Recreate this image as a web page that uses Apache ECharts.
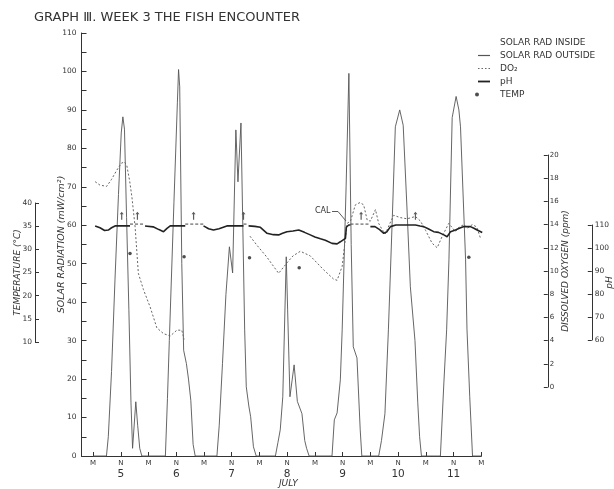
<!DOCTYPE html>
<html>
<head>
<meta charset="utf-8">
<script src="https://cdn.jsdelivr.net/npm/echarts@6/dist/echarts.min.js"></script>
<style>
  html, body { margin: 0; padding: 0; background: #fff; }
  #chart { width: 614px; height: 489px; }
</style>
</head>
<body>
<div id="chart"></div>
<script>
// hours from midnight July 5
const tickHours = [0, 12, 24, 36, 48, 60, 72, 84, 96, 108, 120, 132, 144, 156, 168];
const tickMarks = ['M', 'N', 'M', 'N', 'M', 'N', 'M', 'N', 'M', 'N', 'M', 'N', 'M', 'N', 'M'];
const dayLabels = ['5', '6', '7', '8', '9', '10', '11'];

// solar radiation outside (mW/cm2)
const solarOutside = [
  [0, 0], [5.8, 0], [6.6, 5], [8, 22], [9.5, 46], [11, 68], [12.2, 84], [12.9, 88.2], [13.6, 85], [14.5, 62], [15.5, 38], [16.4, 14], [17.1, 2], [17.8, 2.4], [18.5, 14.1], [19.3, 8], [20.2, 2], [21.1, 0],
  [31.3, 0], [32.2, 15], [33, 30], [35, 66], [36.5, 92], [37, 100.5], [37.5, 96], [38.4, 50], [39.2, 27.5], [40.4, 24], [41.3, 20], [42.3, 14.5], [43.3, 3], [44.2, 0],
  [53.6, 0], [54.6, 8], [56, 24], [57.5, 42], [59, 54.4], [60.4, 47.6], [61.8, 84.8], [62.7, 71.3], [64, 86.6], [64.8, 60], [65.6, 33], [66.3, 18], [67.4, 13], [68.2, 10.2], [69.4, 2.4], [70.6, 0],
  [78.9, 0], [80, 3.5], [81, 6.8], [82.1, 15.4], [83.6, 51.8], [84.2, 38], [85.2, 15.4], [87, 23.7], [88.4, 14.2], [90.4, 11], [91.6, 4], [92.4, 2], [93.5, 0],
  [103.4, 0], [104.4, 9.4], [105.6, 11.2], [107, 19.8], [107.8, 32.8], [109.5, 70], [110.7, 99.5], [111.7, 55], [112.6, 28.4], [114.2, 25.5], [115.6, 6.8], [116.3, 0],
  [123.6, 0], [124.8, 4], [126.3, 11], [127.8, 32.8], [129.5, 62], [130.8, 85.6], [132.7, 90], [134.2, 86], [135.8, 65], [137.3, 44], [139.3, 30], [140.5, 14], [141.3, 5], [142.1, 0],
  [150.3, 0], [151.8, 19], [153, 32.8], [154, 51], [155.4, 88], [157.1, 93.5], [158.3, 90], [159, 85.6], [161.2, 51], [161.8, 33], [163, 15.4], [164.2, 0], [168, 0]
];

// dissolved oxygen (ppm)
const dissolvedO2 = [
  [0.9, 17.7], [3, 17.4], [5.9, 17.3], [8, 17.9], [10.3, 18.7], [12.3, 19.3], [13.6, 19.4], [14.6, 19.1], [15.8, 17.8], [16.8, 16.4], [18.2, 13.8], [19.6, 9.8], [21.8, 8.4], [24.7, 6.9], [27.6, 5.1], [30.5, 4.6], [33.4, 4.4], [36.3, 4.9], [38.4, 4.9], [39.4, 4.1],
  null,
  [67.9, 13], [71, 12.2], [75.2, 11.2], [80.3, 9.8], [83.9, 10.7], [86.5, 11.3], [89.7, 11.7], [94, 11.3], [99.8, 10.1], [104.1, 9.3], [105.6, 9.2], [107.8, 10.4], [109.2, 12.8], [109.9, 14.1], [111.4, 14.3], [113.5, 15.7], [115.5, 15.9], [117.1, 15.7], [118.6, 14.4], [120, 14.3], [122.2, 15.3], [123.6, 14.1], [125, 13.6], [126.5, 13.2], [128.2, 14], [130.1, 14.8], [133, 14.6], [135.9, 14.5], [139.5, 14.7], [141.7, 14.3], [143.9, 13.5], [146.7, 12.4], [148.9, 12], [151.1, 13], [153.9, 14.1], [156.8, 13.4], [158.5, 13.8], [160.5, 14], [162, 13.7], [164.1, 14], [166, 13.8], [167.7, 12.8]
];

// pH (axis labelled 60..110)
const phValues = [
  [0.9, 109.6], [3, 108.8], [5, 107.6], [6.6, 107.8], [8, 108.8], [9.5, 109.6], [12.5, 109.6], [16, 109.6],
  null,
  [22.5, 109.6], [26, 109.2], [28.5, 108], [30.5, 107.1], [32, 108.5], [33.4, 109.6], [36, 109.6], [39.9, 109.6],
  null,
  [47.8, 109.6], [50, 108.4], [52.1, 107.8], [54.5, 108.4], [57.9, 109.6], [61, 109.6], [65.1, 109.6],
  null,
  [67.3, 109.6], [70, 109.4], [72.4, 109], [75.3, 106.4], [78, 105.8], [80.3, 105.7], [82, 106.4], [83.9, 107.1], [86.5, 107.4], [89, 107.8], [91.5, 106.8], [94, 105.7], [96, 104.8], [98.4, 104], [100.5, 103.4], [103.4, 102], [105.6, 101.8], [107, 102.7], [109.2, 104.2], [109.6, 109], [110.6, 110], [111.4, 110],
  null,
  [120, 109.3], [122, 109.3], [124, 108], [125.8, 106.4], [127.2, 107.1], [128.7, 109.3], [131, 110], [136, 110], [139.5, 110], [141.5, 109.6], [143.1, 109.3], [145, 108.4], [147.4, 107.1], [149.5, 106.8], [151.8, 105.7], [153.2, 104.9], [154.7, 107.1], [156.8, 107.8], [158.5, 108.6], [160.5, 109.3], [163.3, 109.3], [164.8, 108.6], [166.2, 107.8], [168.4, 106.7]
];
const phGaps = [
  [16, 110.4], [22.5, 110.4], null, [39.9, 110.4], [47.8, 110.4], null,
  [65.1, 110.4], [67.3, 110.4], null, [111.4, 110.4], [120, 110.4]
];
const arrowHours = [12.4, 19.2, 43.5, 65.1, 116, 139.5];
const arrowLevel = 62.5;

// temperature (°C)
const tempPoints = [[16, 29.1], [39.4, 28.4], [67.7, 28.2], [89.2, 26], [162.6, 28.3]];

const ink = '#333';
const font = 'DejaVu Sans';
const gridBox = { left: 81.5, width: 399.8, containLabel: false, outerBoundsMode: 'none' };
const lineIcon = 'path://M0 4 L12 4 L12 5.2 L0 5.2 Z';
const thickIcon = 'path://M0 3.8 L12 3.8 L12 5.6 L0 5.6 Z';
const dotIcon = 'path://M0 4 L1.5 4 L1.5 5 L0 5 Z M3.5 4 L5 4 L5 5 L3.5 5 Z M7 4 L8.5 4 L8.5 5 L7 5 Z M10.5 4 L12 4 L12 5 L10.5 5 Z';

function hiddenX(gridIndex) {
  return { type: 'value', gridIndex: gridIndex, min: -5, max: 168, show: false };
}
function axisLine() {
  return { show: true, onZero: false, lineStyle: { color: ink, width: 1 } };
}

const chart = echarts.init(document.getElementById('chart'));
chart.setOption({
  backgroundColor: '#fff',
  animation: false,
  textStyle: { fontFamily: font, color: ink },
  title: {
    text: 'GRAPH Ⅲ. WEEK 3 THE FISH ENCOUNTER',
    left: 34, top: 11, padding: 0,
    textStyle: { fontFamily: font, fontSize: 13, fontWeight: 'normal', color: ink }
  },
  legend: [
    {
      data: [
        { name: 'SOLAR RAD INSIDE', icon: 'none' },
        { name: 'SOLAR RAD OUTSIDE', icon: lineIcon },
        { name: 'DO₂', icon: dotIcon },
        { name: 'pH', icon: thickIcon }
      ],
      orient: 'vertical', left: 478, top: 38, padding: 0,
      itemWidth: 12, itemHeight: 9, itemGap: 4, selectedMode: false,
      textStyle: { fontFamily: font, fontSize: 9, lineHeight: 9, color: ink, padding: [0, 0, 0, 5] }
    },
    {
      data: ['TEMP'],
      orient: 'vertical', left: 475, top: 90, padding: 0,
      itemWidth: 4, itemHeight: 4, selectedMode: false,
      textStyle: { fontFamily: font, fontSize: 9, lineHeight: 9, color: ink, padding: [0, 0, 0, 16] }
    }
  ],
  grid: [
    Object.assign({ top: 33, height: 423 }, gridBox),
    Object.assign({ top: 203, height: 139 }, gridBox),
    Object.assign({ top: 155, height: 232 }, gridBox),
    Object.assign({ top: 225, height: 115 }, gridBox)
  ],
  xAxis: [
    {
      type: 'value', gridIndex: 0, min: -5, max: 168,
      name: 'JULY', nameLocation: 'middle', nameGap: 23, nameMoveOverlap: false,
      nameTextStyle: { fontFamily: font, fontSize: 9, fontStyle: 'italic', color: ink, padding: [0, 0, 0, 14] },
      axisLine: { show: true, onZero: false, lineStyle: { color: ink, width: 1 } },
      axisTick: { show: true, inside: true, length: 4, customValues: tickHours, lineStyle: { color: ink } },
      splitLine: { show: false },
      axisLabel: {
        customValues: tickHours, margin: 3,
        formatter: function (v) {
          const i = tickHours.indexOf(v);
          if (i < 0) return '';
          if (tickMarks[i] === 'N') return '{m|N}\n{d|' + dayLabels[Math.floor(v / 24)] + '}';
          return '{m|M}';
        },
        rich: {
          m: { fontFamily: font, fontSize: 7, lineHeight: 9, color: ink },
          d: { fontFamily: font, fontSize: 10.5, lineHeight: 12, color: ink }
        }
      }
    },
    hiddenX(1), hiddenX(2), hiddenX(3)
  ],
  yAxis: [
    {
      type: 'value', gridIndex: 0, min: 0, max: 110, interval: 5, position: 'left',
      name: 'SOLAR RADIATION (mW/cm²)', nameLocation: 'middle', nameGap: 15, nameRotate: 90, nameMoveOverlap: false,
      nameTextStyle: { fontFamily: font, fontSize: 9.5, fontStyle: 'italic', color: ink },
      axisLine: axisLine(),
      axisTick: { show: true, inside: true, length: 5, lineStyle: { color: ink } },
      splitLine: { show: false },
      axisLabel: { fontSize: 7.5, margin: 5, color: ink, formatter: v => (v % 10 === 0 ? String(v) : '') }
    },
    {
      type: 'value', gridIndex: 1, min: 10, max: 40, interval: 5, position: 'left', offset: 46.5,
      name: 'TEMPERATURE (°C)', nameLocation: 'middle', nameGap: 13, nameRotate: 90, nameMoveOverlap: false,
      nameTextStyle: { fontFamily: font, fontSize: 9, fontStyle: 'italic', color: ink },
      axisLine: axisLine(),
      axisTick: { show: true, inside: true, length: 4, lineStyle: { color: ink } },
      splitLine: { show: false },
      axisLabel: { fontSize: 7.5, margin: 3, color: ink }
    },
    {
      type: 'value', gridIndex: 2, min: 0, max: 20, interval: 2, position: 'right', offset: 66.5,
      name: 'DISSOLVED OXYGEN (ppm)', nameLocation: 'middle', nameGap: 13, nameRotate: 90, nameMoveOverlap: false,
      nameTextStyle: { fontFamily: font, fontSize: 9, fontStyle: 'italic', color: ink },
      axisLine: axisLine(),
      axisTick: { show: true, inside: true, length: 4, lineStyle: { color: ink } },
      splitLine: { show: false },
      axisLabel: { fontSize: 7, margin: 2, color: ink }
    },
    {
      type: 'value', gridIndex: 3, min: 60, max: 110, interval: 10, position: 'right', offset: 110.5,
      name: 'pH', nameLocation: 'middle', nameGap: 13, nameRotate: 90, nameMoveOverlap: false,
      nameTextStyle: { fontFamily: font, fontSize: 9, fontStyle: 'italic', color: ink },
      axisLine: axisLine(),
      axisTick: { show: true, inside: true, length: 4, lineStyle: { color: ink } },
      splitLine: { show: false },
      axisLabel: { fontSize: 7.5, margin: 3, color: ink }
    }
  ],
  series: [
    {
      name: 'SOLAR RAD INSIDE', type: 'line', xAxisIndex: 0, yAxisIndex: 0, data: [],
      symbol: 'none', lineStyle: { opacity: 0 }, itemStyle: { color: '#fff' }
    },
    {
      name: 'SOLAR RAD OUTSIDE', type: 'line', xAxisIndex: 0, yAxisIndex: 0, data: solarOutside,
      symbol: 'none', clip: false, z: 3,
      lineStyle: { color: '#555', width: 0.9 }, itemStyle: { color: '#555' }
    },
    {
      name: 'DO₂', type: 'line', xAxisIndex: 2, yAxisIndex: 2, data: dissolvedO2,
      symbol: 'none', clip: false, connectNulls: false,
      lineStyle: { color: '#666', width: 1, type: [2, 2] }, itemStyle: { color: '#666' }
    },
    {
      name: 'pH', type: 'line', xAxisIndex: 3, yAxisIndex: 3, data: phValues,
      symbol: 'none', clip: false, connectNulls: false, z: 4,
      lineStyle: { color: '#222', width: 1.6 }, itemStyle: { color: '#222' }
    },
    {
      name: 'pH gap', type: 'line', xAxisIndex: 3, yAxisIndex: 3, data: phGaps,
      symbol: 'none', clip: false, connectNulls: false,
      lineStyle: { color: '#444', width: 1, type: [3, 2] }
    },
    {
      name: 'marks', type: 'scatter', xAxisIndex: 0, yAxisIndex: 0,
      data: arrowHours.map(h => [h, arrowLevel]),
      symbol: 'path://M5 0 L10 5 L6.5 5 L6.5 16 L3.5 16 L3.5 5 L0 5 Z',
      symbolSize: [4, 8], itemStyle: { color: '#333' }, clip: false
    },
    {
      name: 'TEMP', type: 'scatter', xAxisIndex: 1, yAxisIndex: 1, data: tempPoints,
      symbol: 'circle', symbolSize: 3.5, clip: false, z: 5,
      itemStyle: { color: '#222' }
    }
  ],
  graphic: [
    {
      type: 'text', left: 315, top: 207,
      style: { text: 'CAL', fontFamily: font, fontSize: 8, fill: ink }
    },
    {
      type: 'polyline', silent: true,
      shape: { points: [[332, 211.5], [338, 211.5], [346, 221]] },
      style: { stroke: ink, lineWidth: 0.8, fill: null }
    }
  ]
});
</script>
</body>
</html>
